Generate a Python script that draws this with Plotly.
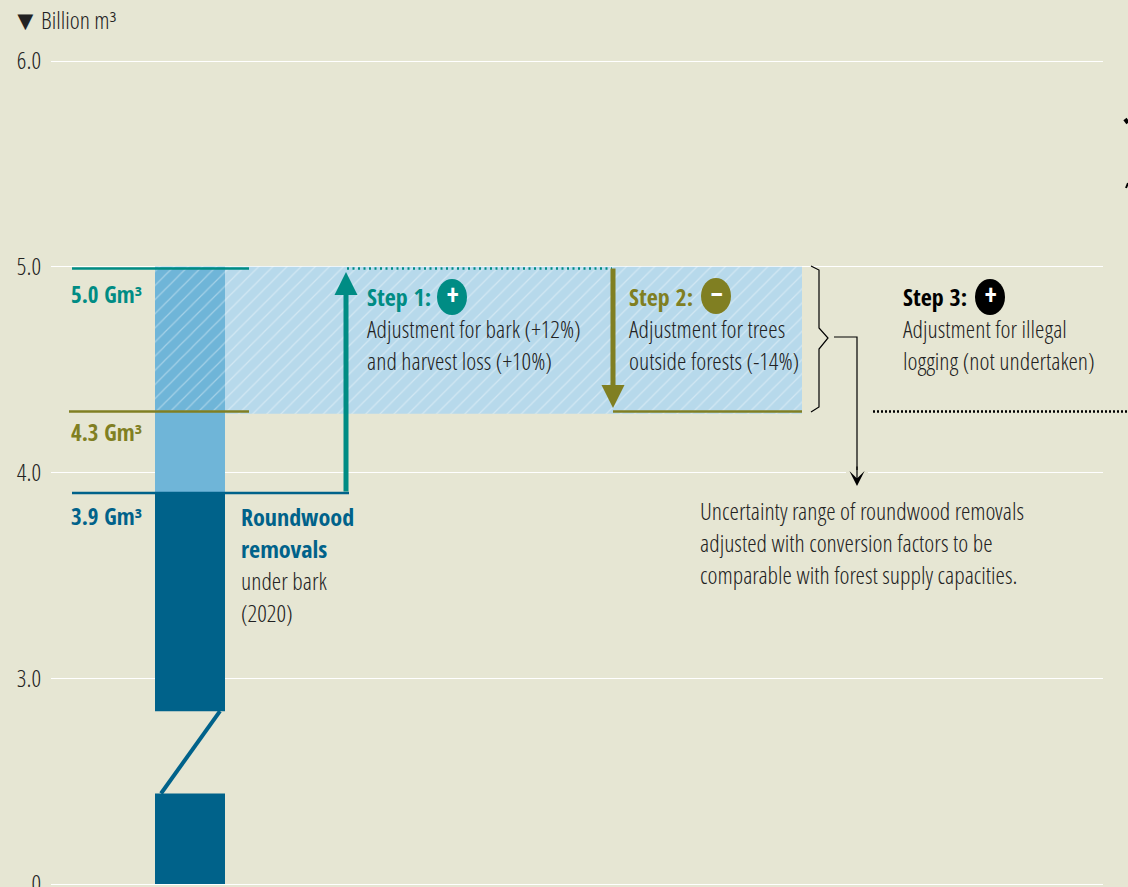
import plotly.graph_objects as go

BG = "#e6e6d3"
TEAL = "#008c84"
OLIVE = "#807f22"
BLUE = "#00628a"
MID_BLUE = "#6fb5d8"
LIGHT_BLUE = "#b7d9eb"
INK = "#222222"

# the axis is broken: true 0 sits at 2 on the drawn scale
tick_vals = [2, 3, 4, 5, 6]
tick_text = ["0", "3.0", "4.0", "5.0", "6.0"]

removals = 3.9
adjusted_low = 4.3
adjusted_high = 5.0
range_floor = 4.285
break_low = 2.44
break_high = 2.84
axis_zero = 2


def ypx(p):
    # pixel row to drawn axis value, only for annotation and decoration placing
    return 6 - (p - 61) / 205.75


font = "Open Sans Condensed, Liberation Sans Narrow, Open Sans"
light_font = "Open Sans Condensed Light, Liberation Sans Narrow, Open Sans"
fig = go.Figure()

# bars
bar_x = 190
bar_w = 70
wide_x = 478.5
wide_w = 647
hatch = dict(shape="/", fgcolor="rgba(255,255,255,0.75)", size=10, solidity=0.12)
fig.add_bar(x=[wide_x], y=[adjusted_high - range_floor], base=[range_floor], width=[wide_w],
            marker=dict(color=LIGHT_BLUE, pattern=dict(bgcolor=LIGHT_BLUE, **hatch), line_width=0))
fig.add_bar(x=[bar_x], y=[adjusted_high - adjusted_low], base=[adjusted_low], width=[bar_w],
            marker=dict(color=MID_BLUE, pattern=dict(bgcolor=MID_BLUE, **hatch), line_width=0))
fig.add_bar(x=[bar_x], y=[adjusted_low - removals], base=[removals], width=[bar_w],
            marker=dict(color=MID_BLUE, line_width=0))
fig.add_bar(x=[bar_x], y=[removals - break_high], base=[break_high], width=[bar_w],
            marker=dict(color=BLUE, line_width=0))
fig.add_bar(x=[bar_x], y=[break_low - axis_zero], base=[axis_zero], width=[bar_w],
            marker=dict(color=BLUE, line_width=0))


def line(xs, ys, color, width=2.5, dash="solid"):
    fig.add_scatter(x=xs, y=ys, mode="lines", cliponaxis=False,
                    line=dict(color=color, width=width, dash=dash), hoverinfo="skip")


def xp(p):
    return (p - 51) / 1052


# gap in the 4.0 gridline behind the arrow
line([846, 868], [4, 4], BG, 3)
# axis break
line([220, 161], [break_high, break_low], BLUE, 4)
# level lines
line([72, 249], [ypx(268.5)] * 2, TEAL)
line([69, 249], [ypx(411.5)] * 2, OLIVE)
line([347, 612], [ypx(268.5)] * 2, TEAL, 2.5, "2px,3.5px")
line([613, 802], [ypx(411.5)] * 2, OLIVE)
# brace and connector
line([811, 819, 819, 828, 819, 819, 811],
     [ypx(p) for p in [266, 270, 328, 338, 349, 407, 412]], "#000000", 1.2)
line([834, 857, 857], [ypx(337), ypx(337), ypx(470)], "#000000", 1.2)

# these run past the plot area, up to the window edge
fig.add_shape(type="line", xref="paper", yref="y", x0=xp(873), x1=xp(1128), y0=ypx(411.5), y1=ypx(411.5),
              line=dict(color="#000000", width=2.5, dash="2px,2px"))
fig.add_shape(type="line", xref="paper", yref="y", x0=xp(1125), x1=xp(1128), y0=ypx(119), y1=ypx(123),
              line=dict(color="#000000", width=4))
fig.add_shape(type="line", xref="paper", yref="y", x0=xp(1126), x1=xp(1128), y0=ypx(188), y1=ypx(183),
              line=dict(color="#000000", width=2))

anns = []


def arrow(x, y_tip, y_tail, color, width, size, head=2):
    anns.append(dict(x=x, y=y_tip, ax=x, ay=y_tail, xref="x", yref="y", axref="x", ayref="y",
                     text="", showarrow=True, arrowhead=head, arrowsize=size, arrowwidth=width,
                     arrowcolor=color, standoff=0, startstandoff=0))


def label(x, p, text, size=24, color=INK, bold=False, anchor="left"):
    anns.append(dict(x=xp(x), y=(887 - p) / 837, xref="paper", yref="paper", text=text, showarrow=False,
                     xanchor=anchor, yanchor="middle", borderpad=0, borderwidth=0, align=anchor,
                     font=dict(family=font if bold else light_font, size=size, color=color,
                               weight=700 if bold else 400)))


arrow(346, ypx(272), removals, TEAL, 5, 0.92)
arrow(613, ypx(408), ypx(267), OLIVE, 5, 0.92)
arrow(857, ypx(486), ypx(465), "#000000", 1.2, 2.1, 3)
# drawn after the arrows so the blue line caps the stem
line([72, 349], [removals, removals], BLUE)

# sign badges
for cx, cy, color, sign in [(452, 297, TEAL, "+"), (716, 296, OLIVE, "\u2212"), (990, 297, "#000000", "+")]:
    fig.add_shape(type="circle", x0=cx - 15, x1=cx + 15, y0=ypx(cy + 18), y1=ypx(cy - 18),
                  fillcolor=color, line_width=0, layer="above")
    label(cx, cy - 3, sign, 30, "#ffffff", True, "center")

label(71, 294, "5.0 Gm\u00b3", 23, TEAL, True)
label(71, 432, "4.3 Gm\u00b3", 23, OLIVE, True)
label(71, 516, "3.9 Gm\u00b3", 23, BLUE, True)
label(241, 516, "Roundwood", 24, BLUE, True)
label(241, 548, "removals", 24, BLUE, True)
label(241, 580, "under bark")
label(241, 612, "(2020)")
label(367, 296, "Step 1:", 24, TEAL, True)
label(367, 328, "Adjustment for bark (+12%)")
label(367, 360, "and harvest loss (+10%)")
label(629, 296, "Step 2:", 24, OLIVE, True)
label(629, 328, "Adjustment for trees")
label(629, 360, "outside forests (-14%)")
label(903, 296, "Step 3:", 24, "#000000", True)
label(903, 328, "Adjustment for illegal")
label(903, 360, "logging (not undertaken)")
label(700, 510, "Uncertainty range of roundwood removals")
label(700, 542, "adjusted with conversion factors to be")
label(700, 574, "comparable with forest supply capacities.")
label(12, 19, "\u25bc", 27)
label(41, 19, "Billion m\u00b3")

fig.update_layout(
    width=1128, height=887, margin=dict(l=51, r=25, t=50, b=0, autoexpand=False),
    paper_bgcolor=BG, plot_bgcolor=BG, showlegend=False, barmode="overlay",
    font=dict(family=light_font, size=24, color=INK),
    annotations=anns,
    xaxis=dict(range=[51, 1103], visible=False, fixedrange=True),
    yaxis=dict(range=[ypx(887), ypx(50)], tickvals=tick_vals, ticktext=tick_text, showgrid=True,
               gridcolor="#ffffff", gridwidth=1.2, zeroline=False, showline=False, ticks="",
               ticklabelstandoff=9, ticklabeloverflow="allow", automargin=False, fixedrange=True,
               tickfont=dict(family=light_font, size=24, color=INK)),
)

fig.write_html("out.html", config={"displayModeBar": False}, post_script="document.body.style.margin='0';")
